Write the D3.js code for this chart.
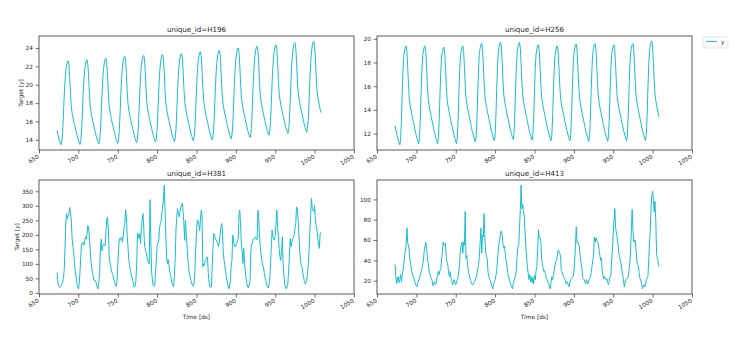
<!DOCTYPE html>
<html>
<head>
<meta charset="utf-8">
<script src="https://cdn.jsdelivr.net/npm/d3@7/dist/d3.min.js"></script>
<style>
  body { margin: 0; background: #fff; }
  text { font-family: "DejaVu Sans", sans-serif; fill: #262626; }
</style>
</head>
<body>
<svg id="chart" width="738" height="339"></svg>
<script>
// Hourly observations; the first value is at ds = 673, one value per hour.
const dsStart = 673;

const seriesIds = ["H196", "H256", "H381", "H413"];

const h196 = [
  15.0, 14.6, 14.2, 13.9, 13.63,
  13.45,13.82,14.82,16.65,18.76,20.4,21.5,22.14,22.51,22.6,22.15,20.78,18.96,17.6,16.96,16.5,16.05,15.68,15.32,14.96,14.59,14.23,13.96,13.68,
  13.5,13.87,14.88,16.72,18.84,20.49,21.6,22.24,22.61,22.7,22.24,20.87,19.04,17.67,17.03,16.57,16.11,15.75,15.38,15.01,14.65,14.28,14.01,13.73,
  13.55,13.92,14.95,16.82,18.97,20.66,21.78,22.43,22.81,22.9,22.44,21.04,19.18,17.79,17.13,16.67,16.2,15.83,15.46,15.09,14.72,14.34,14.07,13.79,
  13.6,13.98,15.03,16.93,19.11,20.82,21.96,22.63,23.01,23.1,22.63,21.22,19.34,17.93,17.27,16.8,16.33,15.96,15.58,15.2,14.83,14.45,14.17,13.89,
  13.7,14.08,15.13,17.03,19.21,20.92,22.06,22.73,23.11,23.2,22.73,21.31,19.42,18.0,17.34,16.87,16.4,16.02,15.64,15.26,14.88,14.51,14.22,13.94,
  13.75,14.13,15.18,17.09,19.29,21.01,22.15,22.82,23.2,23.3,22.83,21.4,19.5,18.08,17.41,16.94,16.46,16.08,15.7,15.32,14.94,14.56,14.28,13.99,
  13.8,14.18,15.24,17.16,19.37,21.1,22.25,22.92,23.3,23.4,22.93,21.5,19.6,18.18,17.51,17.04,16.56,16.18,15.8,15.42,15.04,14.66,14.38,14.09,
  13.9,14.29,15.36,17.3,19.53,21.27,22.44,23.12,23.5,23.6,23.12,21.68,19.76,18.32,17.65,17.17,16.69,16.3,15.92,15.54,15.15,14.77,14.48,14.19,
  14.0,14.39,15.46,17.41,19.66,21.41,22.58,23.26,23.65,23.75,23.27,21.82,19.89,18.44,17.77,17.28,16.8,16.42,16.03,15.64,15.26,14.87,14.58,14.29,
  14.1,14.5,15.59,17.57,19.84,21.62,22.81,23.51,23.9,24.0,23.51,22.05,20.1,18.64,17.96,17.47,16.98,16.59,16.2,15.81,15.42,15.03,14.74,14.45,
  14.25,14.65,15.74,17.73,20.02,21.81,23.01,23.7,24.1,24.2,23.72,22.26,20.32,18.87,18.19,17.7,17.22,16.83,16.44,16.05,15.66,15.28,14.99,14.69,
  14.5,14.89,15.98,17.95,20.21,21.99,23.17,23.86,24.25,24.35,23.87,22.42,20.49,19.04,18.37,17.88,17.4,17.02,16.63,16.24,15.86,15.47,15.18,14.89,
  14.7,15.1,16.19,18.17,20.44,22.22,23.41,24.11,24.5,24.6,24.11,22.65,20.7,19.24,18.56,18.07,17.58,17.19,16.8,16.41,16.02,15.63,15.34,15.05,
  14.85,15.25,16.34,18.32,20.59,22.37,23.56,24.26,24.65,24.75,24.26,22.8,20.85,19.39,18.71,18.22,17.73,17.34,16.95
];

const h256 = [
  12.65,12.3,12.0,11.7,11.45,11.22,
  11.05,11.55,13.14,15.39,17.31,18.57,18.98,19.32,19.4,18.91,17.59,16.1,14.95,14.45,14.04,13.71,13.38,13.05,12.72,12.39,12.06,11.81,11.56,11.32,
  11.15,11.65,13.21,15.44,17.34,18.58,18.99,19.32,19.4,18.91,17.59,16.1,14.95,14.45,14.04,13.71,13.38,13.05,12.72,12.39,12.06,11.81,11.56,11.32,
  11.15,11.64,13.19,15.39,17.26,18.49,18.89,19.22,19.3,18.81,17.51,16.04,14.9,14.41,14.0,13.68,13.35,13.02,12.7,12.37,12.05,11.8,11.56,11.31,
  11.15,11.65,13.21,15.44,17.34,18.58,18.99,19.32,19.4,18.91,17.62,16.16,15.03,14.54,14.14,13.81,13.49,13.16,12.84,12.52,12.19,11.95,11.71,11.46,
  11.3,11.8,13.38,15.62,17.53,18.77,19.19,19.52,19.6,19.11,17.8,16.32,15.17,14.68,14.27,13.94,13.61,13.29,12.96,12.63,12.3,12.06,11.81,11.56,
  11.4,11.9,13.48,15.72,17.63,18.87,19.29,19.62,19.7,19.21,17.9,16.42,15.27,14.78,14.37,14.04,13.71,13.39,13.06,12.73,12.4,12.16,11.91,11.66,
  11.5,11.99,13.55,15.76,17.65,18.88,19.29,19.62,19.7,19.21,17.89,16.4,15.25,14.75,14.34,14.01,13.68,13.35,13.02,12.69,12.36,12.11,11.86,11.62,
  11.45,11.93,13.46,15.64,17.49,18.7,19.1,19.42,19.5,19.01,17.72,16.26,15.13,14.64,14.24,13.91,13.59,13.26,12.94,12.62,12.29,12.05,11.81,11.56,
  11.4,11.88,13.4,15.56,17.4,18.6,19.0,19.32,19.4,18.92,17.64,16.2,15.08,14.6,14.2,13.88,13.56,13.24,12.92,12.6,12.28,12.04,11.8,11.56,
  11.4,11.89,13.44,15.64,17.51,18.74,19.14,19.47,19.55,19.06,17.75,16.27,15.12,14.63,14.22,13.89,13.56,13.24,12.91,12.58,12.25,12.01,11.76,11.51,
  11.35,11.85,13.41,15.64,17.54,18.78,19.19,19.52,19.6,19.11,17.79,16.3,15.15,14.65,14.24,13.91,13.58,13.25,12.92,12.59,12.26,12.01,11.76,11.52,
  11.35,11.84,13.39,15.59,17.46,18.69,19.09,19.42,19.5,19.01,17.72,16.26,15.13,14.64,14.24,13.91,13.59,13.26,12.94,12.62,12.29,12.05,11.81,11.56,
  11.4,11.89,13.45,15.66,17.55,18.78,19.19,19.52,19.6,19.11,17.8,16.32,15.17,14.68,14.27,13.94,13.61,13.29,12.96,12.63,12.3,12.06,11.81,11.56,
  11.4,11.9,13.5,15.77,17.7,18.96,19.38,19.72,19.8,19.3,17.97,16.48,15.32,14.82,14.41,14.07,13.74,13.41
];

const h381 = [
  70,35,25,19,22,25,30,37,50,77,150,240,273,256,267,273,294,275,250,190,160,140,105,80,
  58,35,22,14,28,70,123,165,172,175,164,180,192,185,204,232,225,190,150,110,85,68,55,42,
  44,40,28,18,14,35,70,150,185,145,162,168,165,162,205,255,260,225,130,105,94,75,68,60,
  48,37,28,22,37,95,150,187,181,188,192,175,195,225,240,287,260,200,158,115,95,77,65,55,
  42,30,20,25,40,95,205,200,187,204,169,225,250,273,227,165,150,140,125,112,105,100,321,181,
  75,45,25,22,30,70,112,160,172,175,225,235,245,275,295,319,371,290,200,123,100,115,95,77,
  60,48,32,25,22,60,123,220,265,290,270,262,279,295,302,308,280,240,181,250,200,158,115,85,
  66,55,42,32,25,24,35,77,150,210,250,250,235,215,250,285,270,90,100,95,110,115,124,120,
  66,35,20,18,22,100,159,204,195,187,182,178,170,159,175,200,225,239,216,140,112,95,75,54,
  38,25,14,20,43,90,112,199,180,165,159,165,170,180,187,273,285,230,170,141,101,153,100,75,
  50,31,20,17,30,43,146,165,175,182,187,190,193,182,185,285,262,200,159,130,112,95,89,70,
  54,43,30,20,17,25,43,100,159,216,193,185,182,199,240,285,227,193,150,124,112,150,193,101,
  60,31,20,14,20,31,80,124,187,159,175,187,190,199,220,239,296,291,250,204,150,112,95,89,
  70,54,40,31,35,43,70,101,150,216,270,325,291,285,280,300,251,230,216,190,170,153,204,210
];

const h413 = [
  36,24,17,22,24,18,21,26,19,25,30,36,45,49,55,72,57,55,49,40,35,30,27,24,
  22,19,16,15,14,18,21,22,26,29,32,36,40,50,55,58,52,42,37,30,27,24,22,20,
  15,17,19,16,17,22,27,29,26,30,32,40,48,58,55,55,57,42,38,35,27,24,29,22,
  20,16,19,21,18,16,19,21,24,30,38,52,55,58,47,58,55,88,42,45,35,30,26,22,
  20,17,16,16,18,19,21,24,27,32,36,44,58,72,47,65,63,86,62,48,44,42,28,24,
  21,20,17,14,12,17,19,21,25,30,40,50,57,62,67,69,64,55,52,54,45,40,34,28,
  24,21,19,16,14,12,17,20,22,26,31,45,54,55,73,90,114,91,95,88,83,67,54,42,
  33,27,21,26,19,24,18,23,17,25,21,30,34,50,70,63,62,60,42,36,33,29,30,26,
  22,21,19,17,14,12,18,24,21,25,30,35,39,40,45,50,49,47,45,30,29,26,24,22,
  21,17,18,19,15,14,19,21,22,23,24,28,40,54,73,57,58,56,54,44,38,34,24,22,
  21,19,17,21,19,17,20,22,24,28,34,40,45,63,58,62,60,58,57,50,45,40,42,30,
  25,22,24,21,21,22,18,16,20,24,26,40,52,67,80,91,72,67,62,57,47,44,40,37,
  30,25,21,14,18,21,22,22,24,30,37,49,70,90,70,58,60,60,50,39,36,34,27,22,
  20,17,12,14,16,14,15,21,22,24,40,55,70,93,104,108,99,88,98,80,47,42,39,34
];

const xTickValues = [650, 700, 750, 800, 850, 900, 950, 1000, 1050];
const yTicksH196 = [14, 16, 18, 20, 22, 24];
const yTicksH256 = [12, 14, 16, 18, 20];
const yTicksH381 = [0, 50, 100, 150, 200, 250, 300, 350];
const yTicksH413 = [20, 40, 60, 80, 100];

const legendLabels = ["y"];
const lineColor = "#17becf";

const svg = d3.select("#chart");
const pw = 315, ph = 114;

const panels = [
  { id: seriesIds[0], values: h196, ticks: yTicksH196, left: 39,  top: 36,  yLabelX: 21,   xLabel: false },
  { id: seriesIds[1], values: h256, ticks: yTicksH256, left: 377, top: 36,  yLabelX: null, xLabel: false },
  { id: seriesIds[2], values: h381, ticks: yTicksH381, left: 39,  top: 180, yLabelX: 16.5, xLabel: true },
  { id: seriesIds[3], values: h413, ticks: yTicksH413, left: 377, top: 180, yLabelX: null, xLabel: true }
];

const x = d3.scaleLinear().domain([650, 1050]).range([0, pw]);

panels.forEach(p => {
  const data = p.values.map((v, i) => ({ ds: dsStart + i, y: v }));
  const [lo, hi] = d3.extent(data, d => d.y);
  const pad = (hi - lo) * 0.05;
  const y = d3.scaleLinear().domain([lo - pad, hi + pad]).range([ph, 0]);

  const g = svg.append("g").attr("transform", `translate(${p.left},${p.top})`);

  // series line
  g.append("path")
    .datum(data)
    .attr("fill", "none")
    .attr("stroke", lineColor)
    .attr("stroke-width", 1)
    .attr("stroke-linejoin", "round")
    .attr("d", d3.line().x(d => x(d.ds)).y(d => y(d.y)));

  // x axis
  const xa = g.append("g")
    .attr("transform", `translate(0,${ph})`)
    .call(d3.axisBottom(x).tickValues(xTickValues).tickFormat(d3.format("d")).tickSize(3.5).tickSizeOuter(0));
  xa.selectAll("text")
    .attr("x", 0).attr("y", 0).attr("dy", 0)
    .attr("text-anchor", "end")
    .attr("transform", "translate(0,8) rotate(-30)")
    .style("font-size", "5.8px");

  // y axis
  const ya = g.append("g")
    .call(d3.axisLeft(y).tickValues(p.ticks).tickFormat(d3.format("d")).tickSize(3.5).tickPadding(2.5).tickSizeOuter(0));
  ya.selectAll("text").style("font-size", "5.8px");

  [xa, ya].forEach(a => {
    a.select(".domain").remove();
    a.selectAll("line").attr("stroke", "#333").attr("stroke-width", 0.7);
  });

  // frame
  g.append("rect")
    .attr("width", pw).attr("height", ph)
    .attr("fill", "none").attr("stroke", "#333").attr("stroke-width", 0.8);

  // title
  g.append("text")
    .attr("x", pw / 2).attr("y", -4.3)
    .attr("text-anchor", "middle")
    .style("font-size", "7.1px")
    .text(`unique_id=${p.id}`);

  if (p.yLabelX !== null) {
    g.append("text")
      .attr("transform", `translate(${p.yLabelX - p.left},${ph / 2}) rotate(-90)`)
      .attr("text-anchor", "middle")
      .attr("dy", "0.35em")
      .style("font-size", "5.8px")
      .text("Target [y]");
  }
  if (p.xLabel) {
    g.append("text")
      .attr("x", pw / 2).attr("y", 318.8 - p.top)
      .attr("text-anchor", "middle")
      .style("font-size", "5.8px")
      .text("Time [ds]");
  }
});

// legend
const lg = svg.append("g").attr("transform", "translate(703,37)");
lg.append("rect")
  .attr("width", 25).attr("height", 11).attr("rx", 1.2)
  .attr("fill", "#fff").attr("stroke", "#d6d6d6").attr("stroke-width", 0.7);
legendLabels.forEach((name, i) => {
  lg.append("line")
    .attr("x1", 3).attr("x2", 14).attr("y1", 4.6 + i * 8).attr("y2", 4.6 + i * 8)
    .attr("stroke", lineColor).attr("stroke-width", 1);
  lg.append("text")
    .attr("x", 18).attr("y", 6.8 + i * 8)
    .style("font-size", "5.8px")
    .text(name);
});
</script>
</body>
</html>
